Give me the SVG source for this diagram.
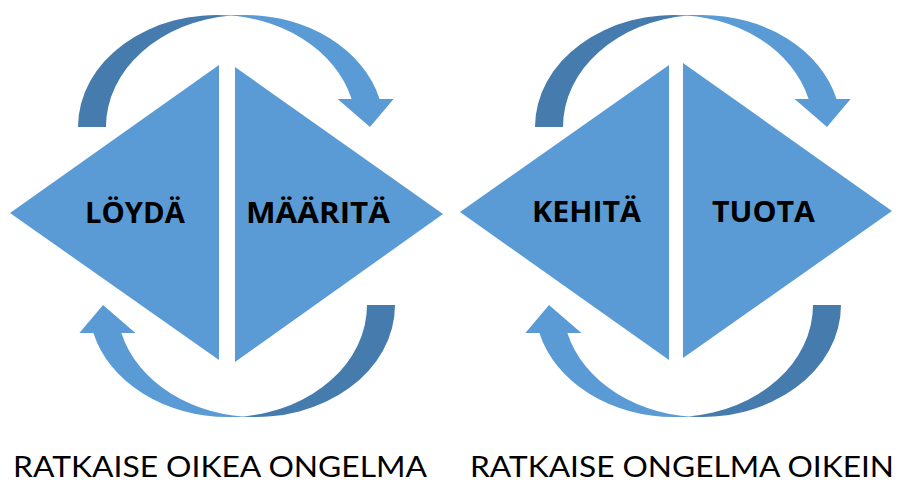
<svg xmlns="http://www.w3.org/2000/svg" xmlns:xlink="http://www.w3.org/1999/xlink" width="898" height="482" viewBox="0 0 898 482">
  <style>
    .tri { fill: #5B9BD5; }
    .front { fill: #5B9BD5; }
    .back { fill: #467BAD; }
    .lbl { font-family: "Open Sans", Lato, "Liberation Sans", sans-serif; font-weight: bold; font-size: 28px; fill: #000; }
    .cap { font-family: Lato, "Open Sans", "Liberation Sans", sans-serif; font-size: 29px; fill: #000; }
  </style>
  <defs>
    <!-- curved arrow: origin at the bottom-left of the back leg, arrow tip on the same baseline -->
    <g id="curvedArrow">
      <path class="back" d="M 0,0 A 139 112 0 0 1 153,-111.43 A 139 112 0 0 0 28,0 Z"/>
      <path class="front" d="M 292,0 L 259.6,-28 L 273.6,-28 A 139 112 0 0 0 139,-112 L 167,-112 A 139 112 0 0 1 301.6,-28 L 315.6,-28 Z"/>
    </g>
  </defs>

  <!-- cycle arrows -->
  <g id="connectors">
    <use xlink:href="#curvedArrow" transform="translate(78,127)"/>
    <use xlink:href="#curvedArrow" transform="translate(395,305) rotate(180)"/>
    <use xlink:href="#curvedArrow" transform="translate(535,127)"/>
    <use xlink:href="#curvedArrow" transform="translate(841,305) rotate(180)"/>
  </g>

  <g id="loyda">
    <polygon class="tri" points="10,213 219,65 219,360"/>
    <text class="lbl" x="85" y="223" textLength="100" lengthAdjust="spacingAndGlyphs">LÖYDÄ</text>
  </g>
  <g id="maarita">
    <polygon class="tri" points="235,67 235,362 443,214"/>
    <text class="lbl" x="246" y="223" textLength="144" lengthAdjust="spacingAndGlyphs">MÄÄRITÄ</text>
  </g>
  <g id="kehita">
    <polygon class="tri" points="460,212 669,65 669,360"/>
    <text class="lbl" x="532" y="222" textLength="109" lengthAdjust="spacingAndGlyphs">KEHITÄ</text>
  </g>
  <g id="tuota">
    <polygon class="tri" points="683,63 683,358 892,211"/>
    <text class="lbl" x="712" y="222" textLength="103" lengthAdjust="spacingAndGlyphs">TUOTA</text>
  </g>

  <g id="captions">
    <text class="cap" x="13" y="477" textLength="414" lengthAdjust="spacingAndGlyphs">RATKAISE OIKEA ONGELMA</text>
    <text class="cap" x="470" y="477" textLength="424" lengthAdjust="spacingAndGlyphs">RATKAISE ONGELMA OIKEIN</text>
  </g>
</svg>
